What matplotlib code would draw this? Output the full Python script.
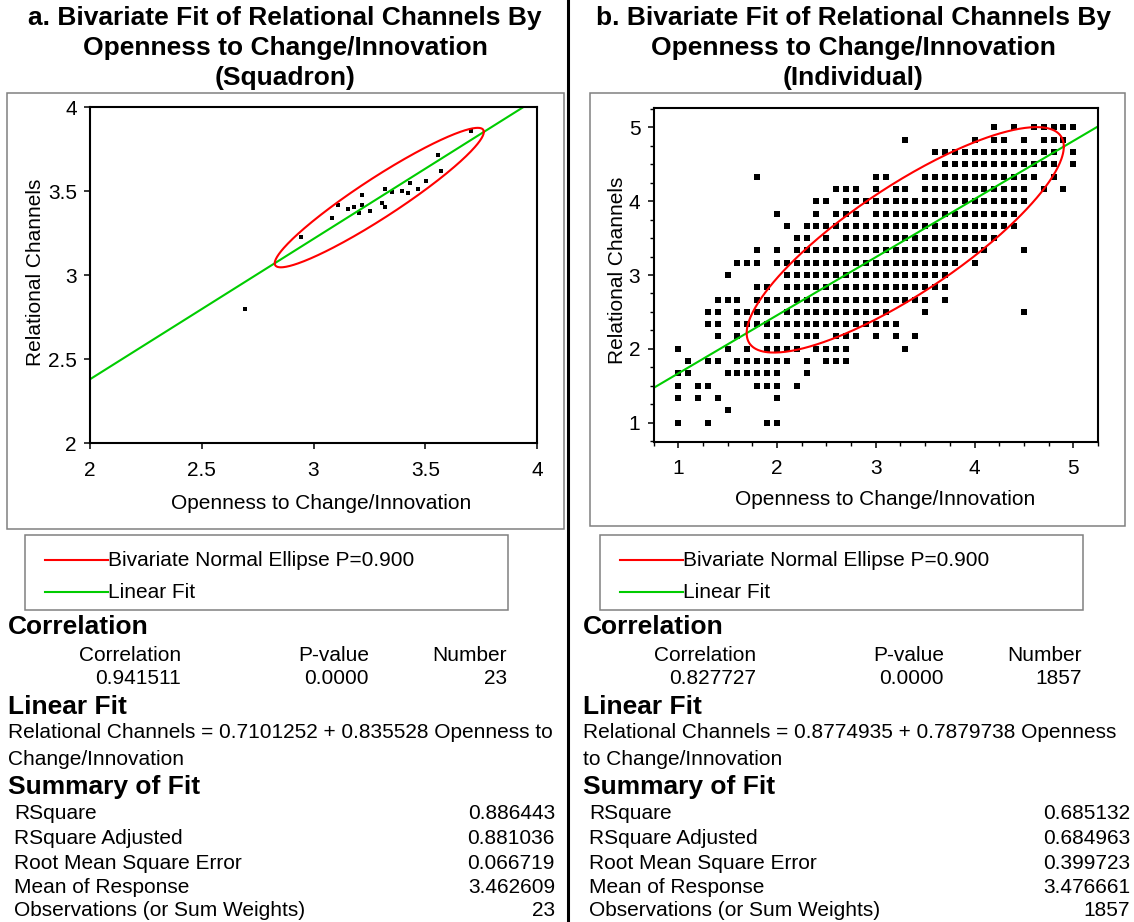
import numpy as np
import matplotlib
matplotlib.use('Agg')
import matplotlib.pyplot as plt
from matplotlib.lines import Line2D
from matplotlib.patches import Rectangle
from matplotlib.ticker import FuncFormatter, MultipleLocator

plt.rcParams['font.family'] = ['Liberation Sans', 'DejaVu Sans']

W, H = 1134, 922

# --- squadron means (panel a) ---
open_a = [3.705, 3.555, 3.569, 3.502, 3.432, 3.466, 3.394, 3.421, 3.351, 3.318, 3.215,
          3.306, 3.318, 3.215, 3.251, 3.203, 3.181, 3.153, 3.108, 3.081, 2.943, 2.693]
rel_a = [3.861, 3.718, 3.621, 3.563, 3.551, 3.515, 3.504, 3.492, 3.496, 3.515, 3.480,
         3.432, 3.407, 3.418, 3.385, 3.373, 3.408, 3.396, 3.420, 3.343, 3.230, 2.800]

# --- individual responses (panel b): one list of x values per response level ---
rel_levels_b = [5.0, 4.833, 4.667, 4.5, 4.333, 4.167, 4.0, 3.833, 3.667, 3.5, 3.333, 3.167,
                3.0, 2.833, 2.667, 2.5, 2.333, 2.167, 2.0, 1.833, 1.667, 1.5, 1.333, 1.167, 1.0]
open_by_level_b = [
    [4.2, 4.4, 4.6, 4.7, 4.8, 4.9, 5.0],
    [3.3, 4.0, 4.2, 4.3, 4.5, 4.7, 4.8, 4.9],
    [3.6, 3.7, 3.8, 3.9, 4.0, 4.1, 4.2, 4.3, 4.4, 4.5, 4.6, 4.7, 4.8, 5.0],
    [3.7, 3.8, 3.9, 4.0, 4.1, 4.2, 4.3, 4.4, 4.5, 4.6, 4.7, 4.8, 5.0],
    [1.8, 3.0, 3.1, 3.5, 3.6, 3.7, 3.8, 3.9, 4.0, 4.1, 4.2, 4.3, 4.4, 4.5, 4.6, 4.8],
    [2.6, 2.7, 2.8, 3.0, 3.2, 3.3, 3.5, 3.6, 3.7, 3.8, 3.9, 4.0, 4.1, 4.2, 4.3, 4.4, 4.5,
     4.7, 4.9],
    [2.4, 2.5, 2.7, 2.8, 2.9, 3.0, 3.1, 3.2, 3.3, 3.4, 3.5, 3.6, 3.7, 3.8, 3.9, 4.0, 4.1,
     4.2, 4.3, 4.4, 4.5],
    [2.0, 2.4, 2.6, 2.7, 2.8, 3.0, 3.1, 3.2, 3.3, 3.4, 3.5, 3.6, 3.7, 3.8, 3.9, 4.0, 4.1,
     4.2, 4.3, 4.4],
    [2.1, 2.3, 2.4, 2.5, 2.6, 2.7, 2.8, 2.9, 3.0, 3.1, 3.2, 3.3, 3.4, 3.5, 3.6, 3.7, 3.8,
     3.9, 4.0, 4.1, 4.2, 4.3, 4.4],
    [2.2, 2.3, 2.5, 2.7, 2.8, 2.9, 3.0, 3.1, 3.2, 3.3, 3.4, 3.5, 3.6, 3.7, 3.8, 3.9, 4.0,
     4.1, 4.2],
    [1.8, 2.0, 2.2, 2.3, 2.4, 2.5, 2.6, 2.7, 2.8, 2.9, 3.0, 3.1, 3.2, 3.3, 3.4, 3.5, 3.6,
     3.7, 3.8, 3.9, 4.0, 4.1, 4.5],
    [1.6, 1.7, 1.8, 2.0, 2.1, 2.2, 2.3, 2.4, 2.5, 2.6, 2.7, 2.8, 2.9, 3.0, 3.1, 3.2, 3.3,
     3.4, 3.5, 3.6, 3.7, 3.8, 4.0],
    [1.5, 2.1, 2.2, 2.3, 2.4, 2.5, 2.6, 2.7, 2.8, 2.9, 3.0, 3.1, 3.2, 3.3, 3.4, 3.5, 3.6,
     3.7],
    [1.8, 1.9, 2.1, 2.2, 2.3, 2.4, 2.5, 2.6, 2.7, 2.8, 2.9, 3.0, 3.1, 3.2, 3.3, 3.4, 3.5,
     3.6, 3.7],
    [1.4, 1.5, 1.6, 1.8, 1.9, 2.0, 2.1, 2.2, 2.3, 2.4, 2.5, 2.6, 2.7, 2.8, 2.9, 3.0, 3.1,
     3.2, 3.3, 3.4, 3.5, 3.7],
    [1.3, 1.4, 1.6, 1.7, 1.8, 1.9, 2.1, 2.2, 2.3, 2.4, 2.5, 2.6, 2.7, 2.8, 2.9, 3.0, 3.1,
     3.5, 4.5],
    [1.3, 1.4, 1.6, 1.7, 1.8, 1.9, 2.0, 2.1, 2.2, 2.3, 2.4, 2.5, 2.6, 2.7, 2.8, 2.9, 3.0,
     3.1, 3.2],
    [1.4, 1.6, 1.9, 2.0, 2.2, 2.3, 2.4, 2.6, 2.7, 2.8, 3.0, 3.2, 3.4],
    [1.0, 1.5, 1.7, 1.9, 2.0, 2.1, 2.2, 2.4, 2.5, 2.6, 2.7, 3.3],
    [1.1, 1.3, 1.4, 1.6, 1.7, 1.8, 1.9, 2.0, 2.1, 2.3, 2.5, 2.6, 2.7],
    [1.0, 1.1, 1.5, 1.6, 1.7, 1.8, 1.9, 2.0, 2.3],
    [1.0, 1.2, 1.3, 1.8, 1.9, 2.0, 2.2],
    [1.0, 1.2, 1.4, 2.0],
    [1.5],
    [1.0, 1.3, 1.9, 2.0],
]

# --- report statistics ---
corr_a, corr_b = 0.941511, 0.827727
pval_a, pval_b = 0.0, 0.0
n_a, n_b = 23, 1857
intercept_a, intercept_b = 0.7101252, 0.8774935
slope_a, slope_b = 0.835528, 0.7879738
rsq_a, rsq_b = 0.886443, 0.685132
rsq_adj_a, rsq_adj_b = 0.881036, 0.684963
rmse_a, rmse_b = 0.066719, 0.399723
mean_y_a, mean_y_b = 3.462609, 3.476661

RED = '#ff0000'
GREEN = '#00cc00'
GRAY = '#808080'


def fx(x):
    return x / W


def fy(y):
    return 1 - y / H


def normal_ellipse(r, slope, intercept, rmse, mean_y, n, p=0.9):
    sd_y = rmse / np.sqrt((1 - r ** 2) * (n - 1) / (n - 2))
    sd_x = sd_y * r / slope
    mean_x = (mean_y - intercept) / slope
    c = np.sqrt(-2 * np.log(1 - p))
    t = np.linspace(0, 2 * np.pi, 361)
    ex = mean_x + c * sd_x * np.cos(t)
    ey = mean_y + c * sd_y * (r * np.cos(t) + np.sqrt(1 - r ** 2) * np.sin(t))
    return ex, ey


def style_axes(ax, xlim, ylim, ticks, minor=None, xlab_pos=(0.5, -0.15), ylab_pos=(-0.1, 0.5)):
    ax.set_xlim(*xlim)
    ax.set_ylim(*ylim)
    ax.set_xticks(ticks[0])
    ax.set_yticks(ticks[1])
    fmt = FuncFormatter(lambda v, pos: '%g' % v)
    ax.xaxis.set_major_formatter(fmt)
    ax.yaxis.set_major_formatter(fmt)
    if minor:
        ax.xaxis.set_minor_locator(MultipleLocator(minor))
        ax.yaxis.set_minor_locator(MultipleLocator(minor))
    ax.tick_params(which='major', direction='out', length=4.5, width=1.1, labelsize=15)
    ax.tick_params(axis='x', which='major', pad=8)
    ax.tick_params(axis='y', which='major', pad=5)
    ax.tick_params(which='minor', direction='out', length=3, width=1.0)
    for s in ax.spines.values():
        s.set_linewidth(1.5)
    ax.set_xlabel('Openness to Change/Innovation', fontsize=15)
    ax.set_ylabel('Relational Channels', fontsize=15)
    ax.xaxis.set_label_coords(*xlab_pos)
    ax.yaxis.set_label_coords(*ylab_pos)


fig = plt.figure(figsize=(W / 100, H / 100), dpi=100)

# panel a
ax_a = fig.add_axes([fx(90), fy(443.3), fx(537 - 90), (443.3 - 107.3) / H])
ax_a.plot(open_a, rel_a, ls='none', marker='s', ms=3.3, mew=0, color='black')
xl = np.array([2.0, 4.0])
ax_a.plot(xl, intercept_a + slope_a * xl, color=GREEN, lw=1.5)
ex, ey = normal_ellipse(corr_a, slope_a, intercept_a, rmse_a, mean_y_a, n_a)
ax_a.plot(ex, ey, color=RED, lw=1.5)
style_axes(ax_a, (2, 4), (2, 4), ([2, 2.5, 3, 3.5, 4], [2, 2.5, 3, 3.5, 4]),
           xlab_pos=(0.517, -0.15), ylab_pos=(-0.101, 0.508))

# panel b
ax_b = fig.add_axes([fx(653.5), fy(441.7), fx(1098 - 653.5), (441.7 - 108.3) / H])
pts_x = [x for xs in open_by_level_b for x in xs]
pts_y = [y for y, xs in zip(rel_levels_b, open_by_level_b) for _ in xs]
ax_b.plot(pts_x, pts_y, ls='none', marker='s', ms=4.9, mew=0, color='black')
xl = np.array([0.75, 5.25])
ax_b.plot(xl, intercept_b + slope_b * xl, color=GREEN, lw=1.5)
ex, ey = normal_ellipse(corr_b, slope_b, intercept_b, rmse_b, mean_y_b, n_b)
ax_b.plot(ex, ey, color=RED, lw=1.5)
style_axes(ax_b, (0.75, 5.25), (0.74, 5.26), ([1, 2, 3, 4, 5], [1, 2, 3, 4, 5]), minor=0.25,
           xlab_pos=(0.52, -0.144), ylab_pos=(-0.06, 0.515))

# titles
titles = [
    ['a. Bivariate Fit of Relational Channels By', 'Openness to Change/Innovation', '(Squadron)'],
    ['b. Bivariate Fit of Relational Channels By', 'Openness to Change/Innovation', '(Individual)'],
]
for cx, lines in zip([285, 853], titles):
    for ty, line in zip([18, 48, 78], lines):
        fig.text(fx(cx), fy(ty), line, ha='center', va='center', fontsize=19, fontweight='bold')

# divider and frames
fig.add_artist(Line2D([fx(568), fx(568)], [0, 1], color='black', lw=2.2))
for x0, y0, x1, y1 in [(7, 93, 564, 529), (590, 93, 1125, 526),
                       (25, 535, 508, 610), (600, 535, 1083, 610)]:
    fig.add_artist(Rectangle((fx(x0), fy(y1)), fx(x1 - x0), (y1 - y0) / H,
                             fill=False, ec=GRAY, lw=1.1))


def report(dx, corr, pval, n, intercept, slope, eq_split, rsq, rsq_adj, rmse, mean_y):
    # legend
    for ly, col, lab in [(560, RED, 'Bivariate Normal Ellipse P=0.900'), (592, GREEN, 'Linear Fit')]:
        fig.add_artist(Line2D([fx(45 + dx), fx(108 + dx)], [fy(ly), fy(ly)], color=col, lw=1.5))
        fig.text(fx(108 + dx), fy(ly), lab, ha='left', va='center', fontsize=15)
    bold = dict(fontsize=19, fontweight='bold', va='center', ha='left')
    norm = dict(fontsize=15, va='center')
    fig.text(fx(8 + dx), fy(627), 'Correlation', **bold)
    for rx, head, val in [(181, 'Correlation', '%.6f' % corr), (369, 'P-value', '%.4f' % pval),
                          (507, 'Number', str(n))]:
        fig.text(fx(rx + dx), fy(655), head, ha='right', **norm)
        fig.text(fx(rx + dx), fy(678), val, ha='right', **norm)
    fig.text(fx(8 + dx), fy(707), 'Linear Fit', **bold)
    eq = 'Relational Channels = %s + %s Openness to Change/Innovation' % (intercept, slope)
    fig.text(fx(8 + dx), fy(733), eq[:eq_split].rstrip(), ha='left', **norm)
    fig.text(fx(8 + dx), fy(759), eq[eq_split:].lstrip(), ha='left', **norm)
    fig.text(fx(8 + dx), fy(787), 'Summary of Fit', **bold)
    rows = [('RSquare', '%.6f' % rsq), ('RSquare Adjusted', '%.6f' % rsq_adj),
            ('Root Mean Square Error', '%.6f' % rmse), ('Mean of Response', '%.6f' % mean_y),
            ('Observations (or Sum Weights)', str(n))]
    for ry, (lab, val) in zip([813, 838, 863, 887, 910], rows):
        fig.text(fx(14 + dx), fy(ry), lab, ha='left', **norm)
        fig.text(fx(555 + dx), fy(ry), val, ha='right', **norm)


eq_a = 'Relational Channels = %s + %s Openness to ' % (intercept_a, slope_a)
eq_b = 'Relational Channels = %s + %s Openness ' % (intercept_b, slope_b)
report(0, corr_a, pval_a, n_a, intercept_a, slope_a, len(eq_a), rsq_a, rsq_adj_a, rmse_a, mean_y_a)
report(575, corr_b, pval_b, n_b, intercept_b, slope_b, len(eq_b), rsq_b, rsq_adj_b, rmse_b, mean_y_b)

fig.savefig('out.png', dpi=100)
